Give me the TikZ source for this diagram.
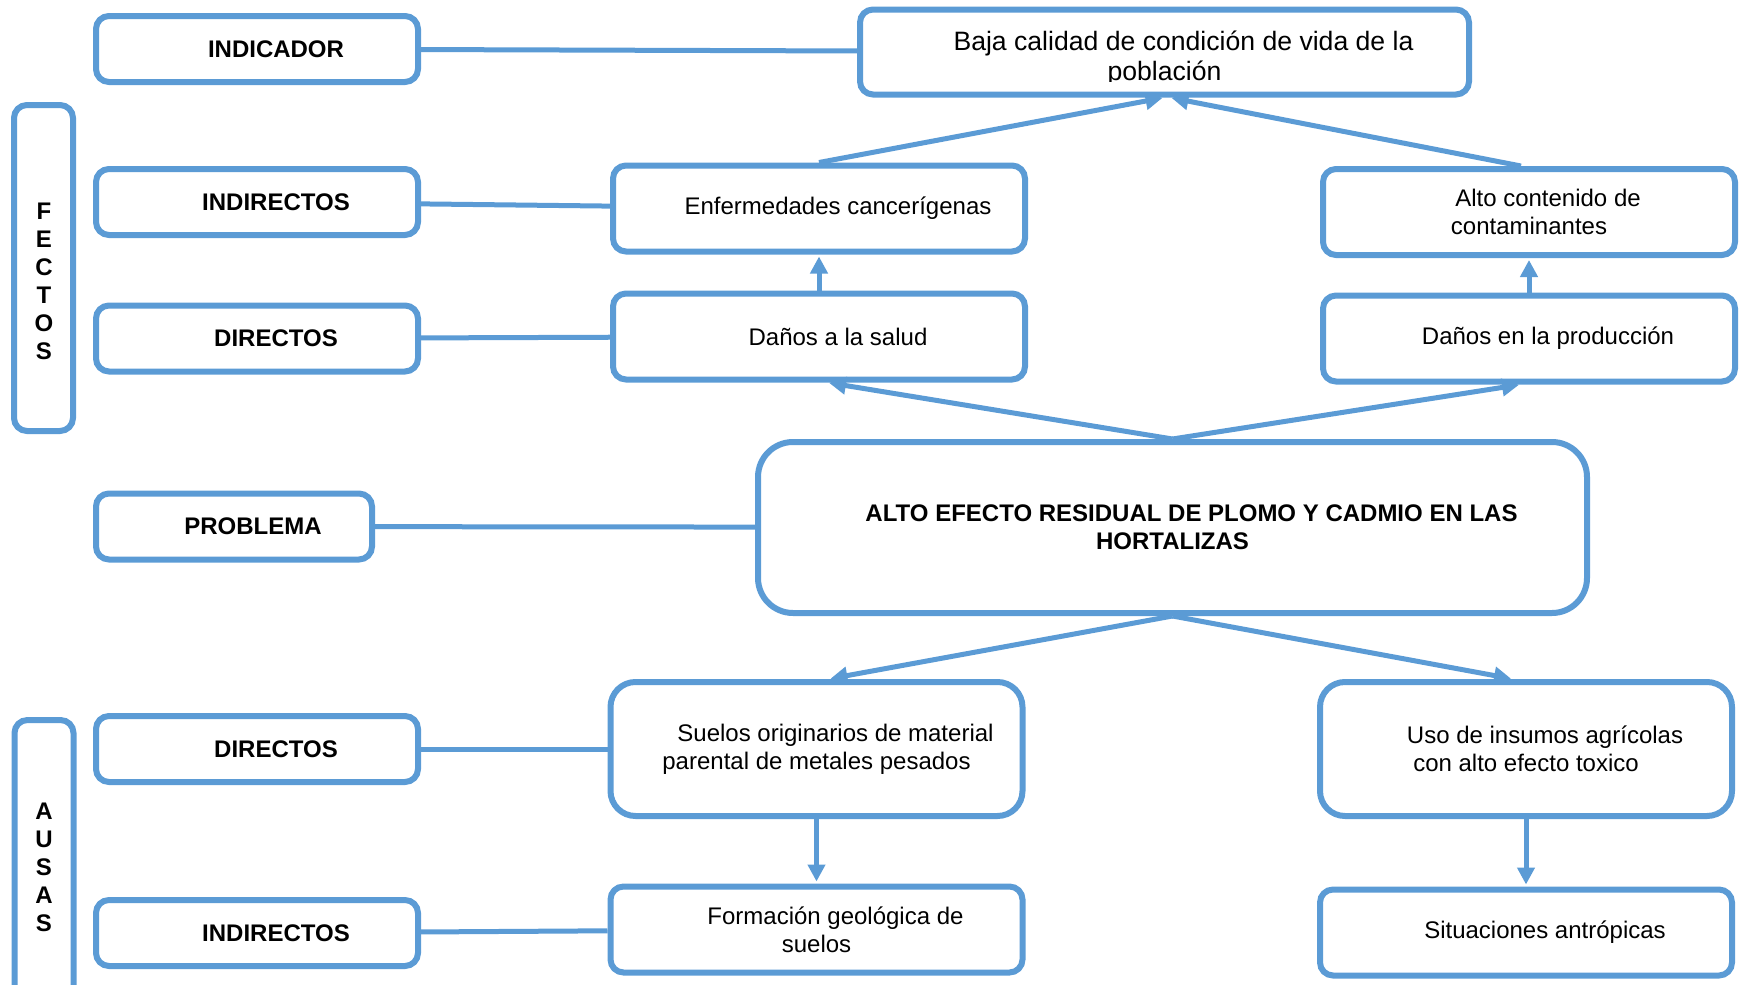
\documentclass[tikz,border=0pt]{standalone}
\usepackage{fontspec}
\setmainfont{Liberation Sans}
\usepackage{tikz}
\usetikzlibrary{arrows.meta}
\definecolor{azul}{RGB}{91,155,213}
\newcommand{\sangria}{\hspace*{38pt}}
\newcommand{\letra}{\fontsize{24}{28}\selectfont}

\begin{document}
\begin{tikzpicture}[x=1pt,y=-1pt,
  caja/.style={draw=azul,line width=6pt,rounded corners=13pt,fill=white,inner sep=0pt,align=center,font=\letra},
  etiqueta/.style={caja,minimum width=322pt,minimum height=66pt,font=\letra\bfseries},
  efecto/.style={caja,minimum width=412pt,minimum height=86pt},
  enlace/.style={azul,line width=5pt},
  flecha/.style={enlace,-{Triangle[length=17pt,width=17pt]},shorten >=2pt}]
\clip (0,0) rectangle (1741,985);
%Node Coordinates
\node at (257,49) [etiqueta] (Indicador) {\sangria INDICADOR};
\node at (1164.5,52) [caja,minimum width=609pt,minimum height=85pt] (Baja) {};
\node at (43.5,268) [caja,minimum width=59pt,minimum height=326pt] (Efectos) {};
\node at (257,202) [etiqueta] (IndirectosE) {\sangria INDIRECTOS};
\node at (819,208.5) [efecto] (Enfermedades) {\sangria Enfermedades cancerígenas};
\node at (1529,212) [efecto] (Contaminantes) {\sangria Alto contenido de\\contaminantes};
\node at (257,338.5) [etiqueta] (DirectosE) {\sangria DIRECTOS};
\node at (819,336.5) [efecto] (Salud) {\sangria Daños a la salud};
\node at (1529,338.5) [efecto] (Produccion) {\sangria Daños en la producción};
\node at (234,526.5) [etiqueta,minimum width=276pt] (Problema) {\sangria PROBLEMA};
\node at (1172.5,527.5) [caja,rounded corners=35pt,minimum width=829pt,minimum height=171pt,font=\letra\bfseries] (Alto) {\sangria ALTO EFECTO RESIDUAL DE PLOMO Y CADMIO EN LAS\\HORTALIZAS};
\node at (44,866) [caja,minimum width=59pt,minimum height=292pt] (Causas) {};
\node at (257,749) [etiqueta] (DirectosC) {\sangria DIRECTOS};
\node at (816.5,749) [efecto,rounded corners=25pt,minimum height=134pt] (Suelos) {\sangria Suelos originarios de material\\parental de metales pesados};
\node at (1526,749) [efecto,rounded corners=25pt,minimum height=134pt] (Insumos) {\sangria Uso de insumos agrícolas\\con alto efecto toxico};
\node at (257,933) [etiqueta] (IndirectosC) {\sangria INDIRECTOS};
\node at (816.5,929.5) [efecto] (Formacion) {\sangria Formación geológica de\\suelos};
\node at (1526,932.5) [efecto] (Antropicas) {\sangria Situaciones antrópicas};
%Node Labels
\node at (44,281) [font=\letra\bfseries,align=center,inner sep=0pt] (LetrasE) {F\\E\\C\\T\\O\\S};
\node at (44,867.5) [font=\letra\bfseries,align=center,inner sep=0pt] (LetrasC) {A\\U\\S\\A\\S};
\begin{scope}
\clip ([yshift=5pt]Baja.north west) rectangle ([yshift=16.5pt]Baja.south east);
\node at ([yshift=-6.5pt]Baja.center) [font=\fontsize{26.6}{30}\selectfont,align=center,inner sep=0pt] (TextoBaja) {\sangria Baja calidad de condición de vida de la\\población};
\end{scope}
%Connections
\draw [enlace] (Indicador) -- (Baja);
\draw [enlace] (IndirectosE) -- (Enfermedades);
\draw [enlace] (DirectosE) -- (Salud);
\draw [enlace] (Problema) -- (Alto);
\draw [enlace] (DirectosC) -- (Suelos);
\draw [enlace] (IndirectosC) -- (Formacion);
%Arrows
\draw [flecha] (Enfermedades.north) -- (Baja.south);
\draw [flecha] ([xshift=-8pt]Contaminantes.north) -- ([xshift=5pt]Baja.south);
\draw [flecha] (Salud.north) -- (Enfermedades.south);
\draw [flecha] (Produccion.north) -- (Contaminantes.south);
\draw [flecha] (Alto.north) -- ([xshift=8pt]Salud.south);
\draw [flecha] (Alto.north) -- ([xshift=-8pt]Produccion.south);
\draw [flecha] (Alto.south) -- ([xshift=12pt]Suelos.north);
\draw [flecha] (Alto.south) -- ([xshift=-13pt]Insumos.north);
\draw [flecha] (Suelos.south) -- (Formacion.north);
\draw [flecha] (Insumos.south) -- (Antropicas.north);
\end{tikzpicture}
\end{document}
